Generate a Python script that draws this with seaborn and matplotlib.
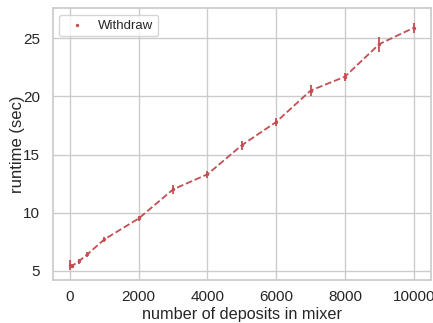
import numpy as np
import pandas as pd
import matplotlib
matplotlib.use("Agg")
import matplotlib.pyplot as plt
import seaborn as sns

# deposits in mixer vs. withdraw runtime
deposits = [0, 50, 250, 500, 1000, 2000, 3000, 4000, 5000, 6000, 7000, 8000, 9000, 10000]
runtime = [5.5, 5.4, 5.8, 6.4, 7.7, 9.5, 12.0, 13.3, 15.8, 17.8, 20.5, 21.7, 24.5, 25.9]
runtime_err = [0.45, 0.2, 0.2, 0.25, 0.2, 0.2, 0.4, 0.3, 0.4, 0.35, 0.5, 0.35, 0.65, 0.45]

df = pd.DataFrame({"deposits": deposits, "runtime": runtime, "err": runtime_err})

sns.set_theme(style="whitegrid")
plt.rcParams["font.family"] = ["Liberation Sans", "DejaVu Sans"]

red = sns.color_palette("deep")[3]

fig, ax = plt.subplots(figsize=(4.33, 3.23), dpi=100)
fig.subplots_adjust(left=0.122, right=0.995, bottom=0.133, top=0.975)

ax.errorbar(df["deposits"], df["runtime"], yerr=df["err"], fmt="--", color=red,
            linewidth=1.3, elinewidth=1.3, capsize=0)
sns.scatterplot(data=df, x="deposits", y="runtime", ax=ax, color=red, s=6,
                linewidth=0, label="Withdraw")

ax.set_xlabel("number of deposits in mixer", fontsize=11.7, labelpad=2)
ax.set_ylabel("runtime (sec)", fontsize=12)
ax.yaxis.set_label_coords(-0.074, 0.5)
ax.tick_params(labelsize=11, pad=1)
ax.tick_params(axis="y", pad=3)
ax.set_xticks([0, 2000, 4000, 6000, 8000, 10000])
ax.set_yticks([5, 10, 15, 20, 25])
ax.set_xlim(-500, 10500)
ax.set_ylim(4.2, 27.6)
ax.legend(loc="upper left", fontsize=9.5, borderpad=0.35, handletextpad=0.6)

plt.savefig("out.png", dpi=100)
